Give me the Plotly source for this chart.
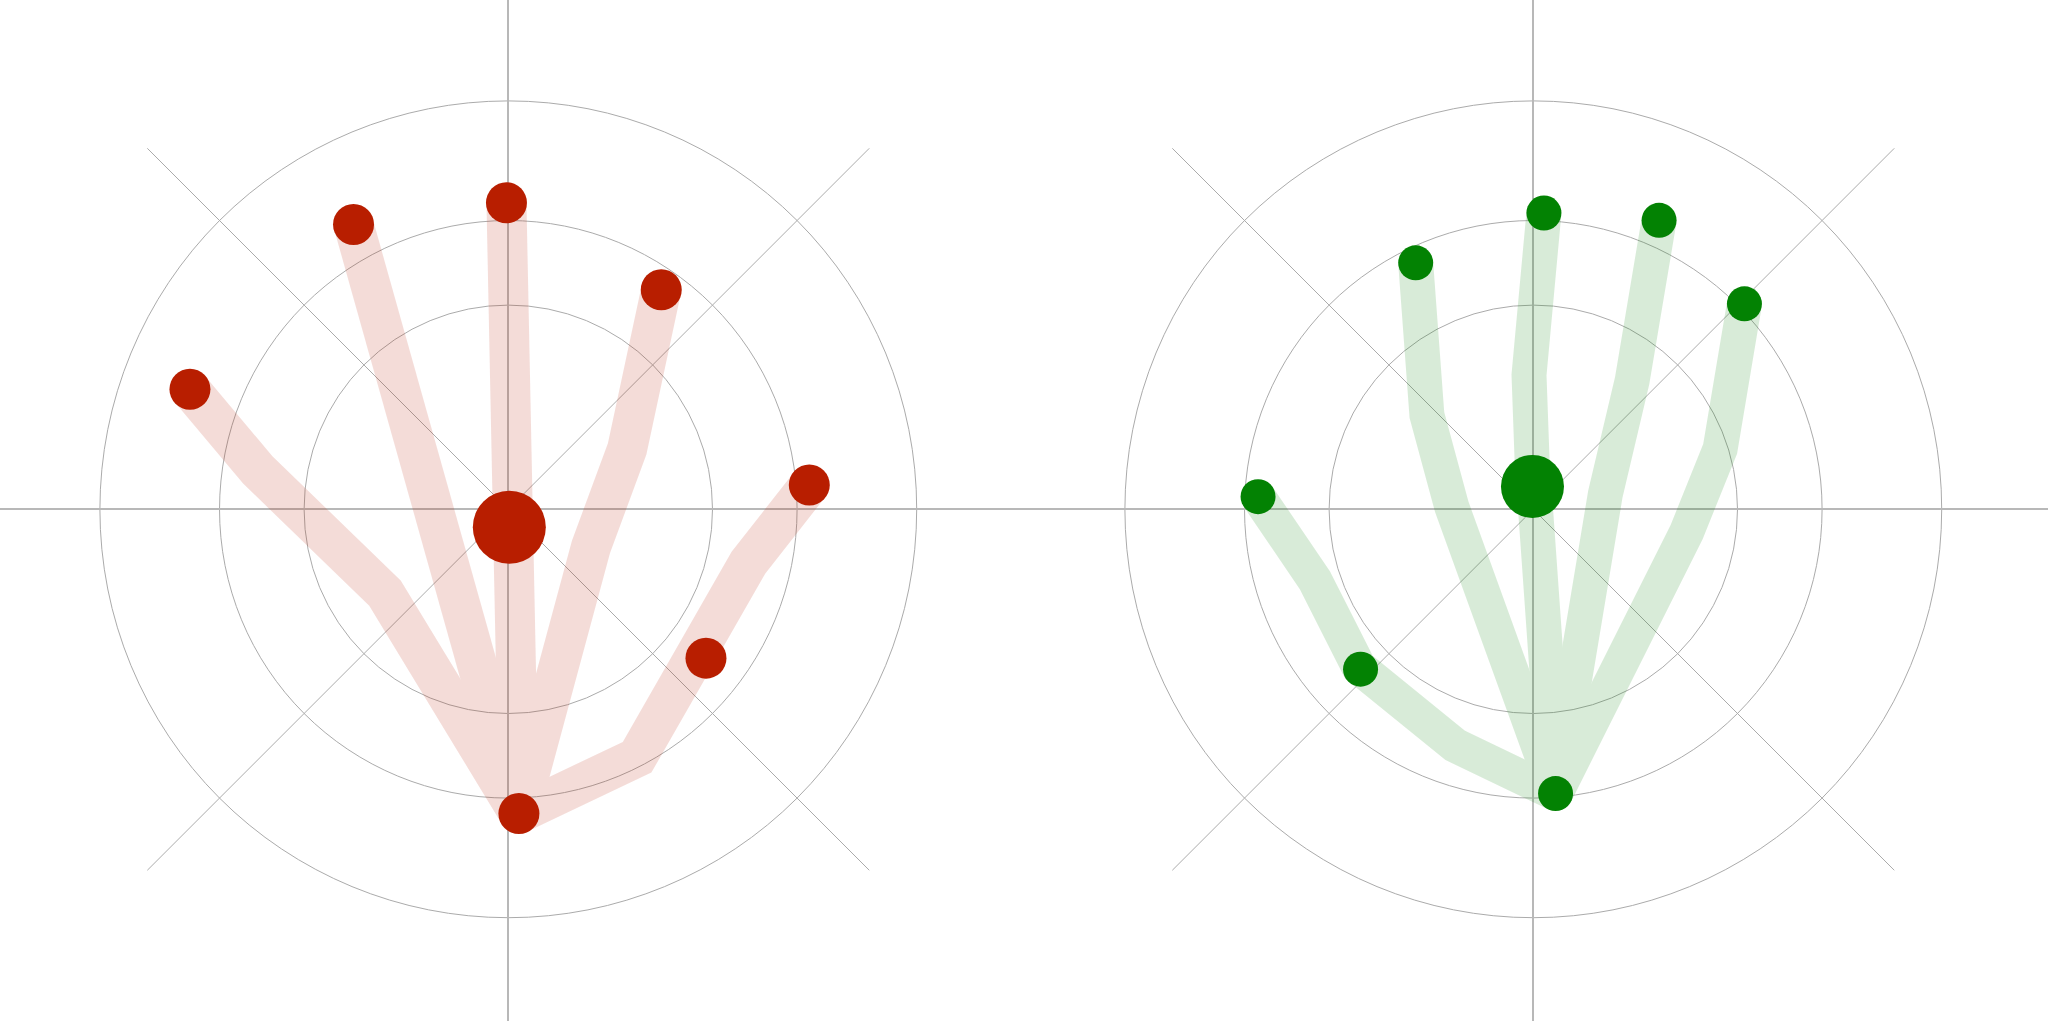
import math
import plotly.graph_objects as go

# ---------------- data (hand keypoints, in chart units) ----------------
RING_RADII = [1.0, 1.4142, 2.0]
SPOKE_LENGTH = 2.5

# Left panel (red hand): each finger polyline from tip down to wrist
LEFT_FINGER_X = [
    [-1.559, -1.227, -0.604, 0.052],           # little finger
    [-0.758, -0.604, -0.482, 0.052],           # ring finger
    [-0.009, -0.001, 0.003, 0.052],            # middle finger
    [0.749, 0.665, 0.582, 0.405, 0.052],       # index finger
    [1.474, 1.175, 0.631, 0.052],              # thumb
]
LEFT_FINGER_Y = [
    [0.588, 0.193, -0.410, -1.490],
    [1.395, 0.854, 0.379, -1.490],
    [1.501, 0.879, 0.340, -1.490],
    [1.075, 0.658, 0.296, -0.184, -1.490],
    [0.119, -0.263, -1.214, -1.490],
]
LEFT_DOT_X = [0.005, 0.052, -1.559, -0.758, -0.009, 0.749, 1.474, 0.968]
LEFT_DOT_Y = [-0.088, -1.490, 0.588, 1.395, 1.501, 1.075, 0.119, -0.729]

# Right panel (green hand)
RIGHT_FINGER_X = [
    [-1.348, -1.070, -0.854, -0.384, 0.109],   # thumb
    [-0.576, -0.565, -0.521, -0.399, 0.109],   # index finger
    [0.052, -0.021, -0.006, 0.109],            # middle finger
    [0.616, 0.545, 0.484, 0.353, 0.109],       # ring finger
    [1.034, 0.989, 0.915, 0.751, 0.109],       # little finger
]
RIGHT_FINGER_Y = [
    [0.062, -0.347, -0.773, -1.155, -1.392],
    [1.207, 0.815, 0.462, 0.011, -1.392],
    [1.451, 0.658, 0.242, -1.392],
    [1.415, 0.943, 0.629, 0.075, -1.392],
    [1.006, 0.619, 0.296, -0.111, -1.392],
]
RIGHT_DOT_X = [-0.004, 0.109, -1.348, -0.576, 0.052, 0.616, 1.034, -0.846]
RIGHT_DOT_Y = [0.112, -1.392, 0.062, 1.207, 1.451, 1.415, 1.006, -0.783]

# ---------------- styling ----------------
W, H = 2048, 1021
PX_PER_UNIT = H / 5.0
GRID_COLOR = "#ababab"
AXIS_COLOR = "#b8b8b8"

panels = [
    dict(fx=LEFT_FINGER_X, fy=LEFT_FINGER_Y, dx=LEFT_DOT_X, dy=LEFT_DOT_Y,
         dot="#b81e00", band_w=40, small=41, big=73,
         cx=508.3, x0=0, x1=1024, xa="x", ya="y"),
    dict(fx=RIGHT_FINGER_X, fy=RIGHT_FINGER_Y, dx=RIGHT_DOT_X, dy=RIGHT_DOT_Y,
         dot="#038203", band_w=35, small=35, big=63,
         cx=1533.3, x0=1024, x1=2048, xa="x2", ya="y2"),
]
CY = 509.3

fig = go.Figure()
shapes = []
a = SPOKE_LENGTH / math.sqrt(2)
for p in panels:
    bx, by = [], []
    for xs, ys in zip(p["fx"], p["fy"]):
        bx += xs + [None]
        by += ys + [None]
    fig.add_trace(go.Scatter(
        x=bx, y=by, mode="lines", xaxis=p["xa"], yaxis=p["ya"],
        line=dict(color=p["dot"], width=p["band_w"]), opacity=0.15,
        connectgaps=False, hoverinfo="skip", showlegend=False))
    sizes = [p["big"]] + [p["small"]] * (len(p["dx"]) - 1)
    fig.add_trace(go.Scatter(
        x=p["dx"], y=p["dy"], mode="markers", xaxis=p["xa"], yaxis=p["ya"],
        marker=dict(color=p["dot"], size=sizes, line=dict(width=0), opacity=1),
        hoverinfo="skip", showlegend=False))
    for r in RING_RADII:
        shapes.append(dict(type="circle", xref=p["xa"], yref=p["ya"],
                           x0=-r, x1=r, y0=-r, y1=r, layer="below",
                           line=dict(color=GRID_COLOR, width=1)))
    for sgn in (1, -1):
        shapes.append(dict(type="line", xref=p["xa"], yref=p["ya"],
                           x0=-a, y0=-sgn * a, x1=a, y1=sgn * a, layer="below",
                           line=dict(color=GRID_COLOR, width=1)))

def xrange(p):
    left = p["cx"] - p["x0"]
    right = p["x1"] - p["cx"]
    return [-left / PX_PER_UNIT, right / PX_PER_UNIT]

yr = [-(H - CY) / PX_PER_UNIT, CY / PX_PER_UNIT]
axis_common = dict(showgrid=False, showticklabels=False, ticks="", showline=False,
                   zeroline=True, zerolinecolor=AXIS_COLOR, zerolinewidth=1.5,
                   fixedrange=True)

fig.update_layout(
    width=W, height=H,
    margin=dict(l=0, r=0, t=0, b=0),
    paper_bgcolor="white", plot_bgcolor="white",
    showlegend=False,
    shapes=shapes,
    xaxis=dict(domain=[0, 0.5], range=xrange(panels[0]), anchor="y", **axis_common),
    yaxis=dict(domain=[0, 1], range=yr, anchor="x", **axis_common),
    xaxis2=dict(domain=[0.5, 1], range=xrange(panels[1]), anchor="y2", **axis_common),
    yaxis2=dict(domain=[0, 1], range=yr, anchor="x2", **axis_common),
)

fig.write_html("out.html", config={"displayModeBar": False},
               post_script="document.body.style.margin='0';document.body.style.overflow='hidden';")
